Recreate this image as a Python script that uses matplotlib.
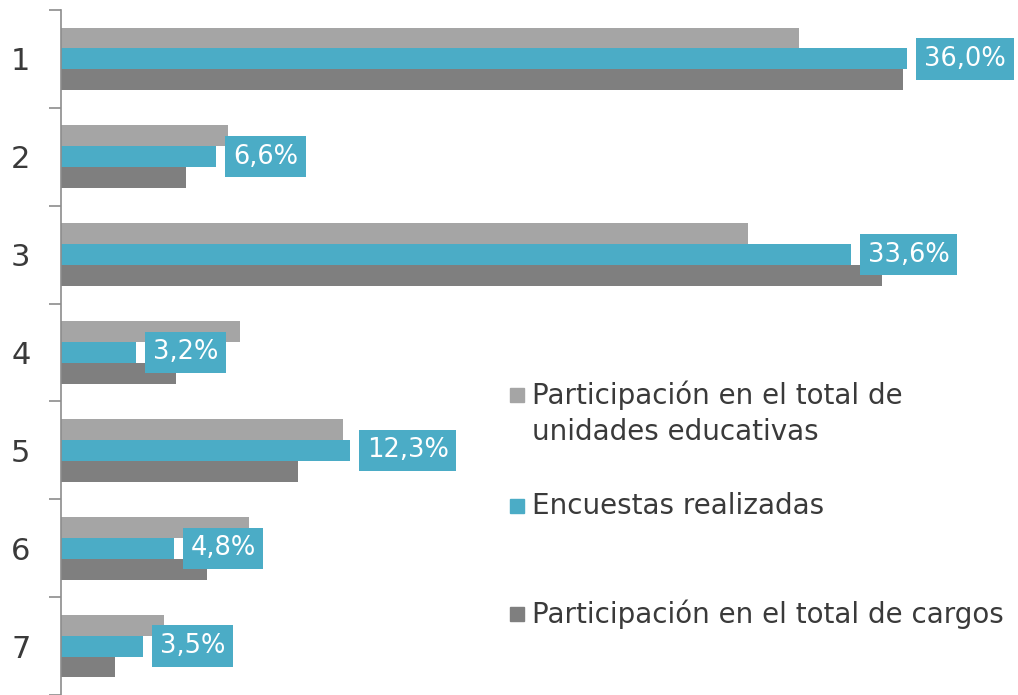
import matplotlib.pyplot as plt
from matplotlib.patches import Rectangle
import numpy as np

# Datos
categorias = ['1', '2', '3', '4', '5', '6', '7']
unidades = [31.4, 7.1, 29.2, 7.6, 12.0, 8.0, 4.4]
encuestas = [36.0, 6.6, 33.6, 3.2, 12.3, 4.8, 3.5]
cargos = [35.8, 5.3, 34.9, 4.9, 10.1, 6.2, 2.3]
etiquetas_serie = ['Participación en el total de\nunidades educativas',
                   'Encuestas realizadas',
                   'Participación en el total de cargos']

colores = ['#A5A5A5', '#4BACC6', '#7F7F7F']
texto = '#3a3a3a'
fuente = 'DejaVu Sans'

fig = plt.figure(figsize=(10.18, 6.95), dpi=100)
ax = fig.add_axes([61 / 1018, 0, 1 - 61 / 1018, 685 / 695])

y = np.arange(len(categorias))
h = 0.214
ax.barh(y - h, unidades, h, color=colores[0])
bars = ax.barh(y, encuestas, h, color=colores[1])
ax.barh(y + h, cargos, h, color=colores[2])

ax.set_ylim(6.5, -0.5)
ax.set_xlim(0, 40.7)

# Etiquetas de la serie de encuestas
for b, v in zip(bars, encuestas):
    ax.annotate(f'{v:.1f}%'.replace('.', ','),
                (b.get_width(), b.get_y() + b.get_height() / 2),
                xytext=(12, 0), textcoords='offset points',
                ha='left', va='center', color='white', fontsize=18.5,
                family=fuente,
                bbox=dict(boxstyle='square,pad=0.3', fc=colores[1], ec='none'))

# Ejes
for s in ['top', 'right', 'bottom']:
    ax.spines[s].set_visible(False)
ax.spines['left'].set_color('#8c8c8c')
ax.spines['left'].set_linewidth(1.2)
ax.set_xticks([])
ax.set_yticks(y)
ax.set_yticklabels(categorias, fontsize=22, family=fuente, color=texto)
ax.tick_params(axis='y', which='major', length=0, pad=22)
ax.set_yticks(np.arange(-0.5, 7.0, 1.0), minor=True)
ax.tick_params(axis='y', which='minor', length=9, color='#8c8c8c', width=1.2)

# Leyenda manual
W, H = 1018, 695
pos_y = [395, 506, 614]
for col, lab, py in zip(colores, etiquetas_serie, pos_y):
    fig.patches.append(Rectangle((510 / W, 1 - (py + 7) / H), 14 / W, 14 / H,
                                 transform=fig.transFigure, color=col))
    for i, linea in enumerate(lab.split('\n')):
        fig.text(532 / W, 1 - (py + i * 37) / H, linea, ha='left', va='center',
                 fontsize=20, family=fuente, color=texto)

plt.savefig('out.png', dpi=100)
